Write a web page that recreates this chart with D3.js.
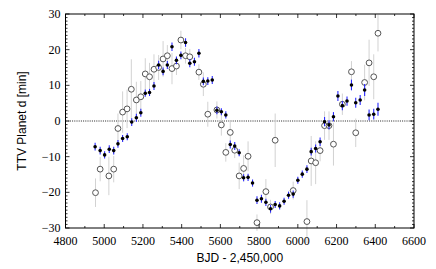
<!DOCTYPE html>
<html>
<head>
<meta charset="utf-8">
<script src="https://cdn.jsdelivr.net/npm/d3@7"></script>
<style>
  html, body { margin: 0; padding: 0; background: #fff; }
  svg { display: block; }
</style>
</head>
<body>
<div id="chart"></div>
<script>
// filled points (black, blue error bars)
var fitTimes = [4953, 4979, 5002, 5026, 5049, 5071, 5095, 5119, 5142, 5166, 5189, 5212, 5234, 5257, 5281, 5304,
    5326, 5350, 5373, 5396, 5420, 5442, 5466, 5489, 5512, 5535, 5558, 5582, 5605, 5628, 5651, 5674,
    5697, 5720, 5743, 5766, 5789, 5812, 5835, 5859, 5883, 5906, 5929, 5952, 5976, 6000, 6023, 6047,
    6069, 6092, 6115, 6138, 6161, 6184, 6207, 6230, 6254, 6277, 6299, 6322, 6345, 6368, 6392, 6414];
var fitValues = [-7.2, -8.3, -9.5, -7.9, -8.3, -6.4, -4.9, -4.4, -0.3, 0.9, 2.3, 7.8, 8.0, 9.8, 15.7, 13.9,
    15.7, 20.8, 17.0, 18.4, 22.0, 16.2, 16.6, 19.0, 11.1, 11.2, 11.5, 3.0, 2.6, 1.7, -6.6, -7.0,
    -8.9, -15.9, -15.8, -17.4, -22.2, -21.8, -22.8, -24.6, -23.4, -23.8, -22.5, -20.8, -20.5, -16.6, -14.9, -13.5,
    -8.6, -7.7, -5.8, -0.2, -1.1, 1.2, 7.0, 4.3, 5.6, 10.1, 5.1, 5.9, 8.7, 1.7, 1.9, 3.3];
var fitErrors = [1.1, 1.1, 1.0, 1.1, 1.1, 1.1, 1.0, 1.0, 1.1, 1.1, 1.1, 1.0, 1.0, 1.1, 1.2, 1.1,
    1.1, 1.2, 1.1, 1.1, 1.2, 1.1, 1.1, 1.2, 1.1, 1.1, 1.1, 1.1, 1.0, 1.0, 1.1, 1.1,
    1.0, 1.0, 1.0, 1.0, 1.1, 1.1, 1.0, 1.1, 1.0, 1.0, 1.0, 1.0, 1.0, 1.0, 1.0, 1.1,
    1.1, 1.1, 1.2, 1.3, 1.3, 1.3, 1.4, 1.3, 1.3, 1.5, 1.4, 1.4, 1.7, 1.5, 1.5, 1.8];

// open circles (grey error bars)
var obsTimes = [4955, 4979, 5024, 5049, 5071, 5095, 5118, 5140, 5166, 5189, 5212, 5234, 5257, 5281, 5304, 5326,
    5350, 5373, 5396, 5420, 5442, 5489, 5512, 5535, 5582, 5605, 5628, 5651, 5674, 5697, 5720, 5743,
    5789, 5835, 5859, 5883, 5976, 6047, 6069, 6092, 6115, 6138, 6161, 6184, 6230, 6277, 6299, 6345,
    6368, 6392, 6414];
var obsValues = [-20.1, -13.5, -15.4, -13.5, -2.1, 2.5, 3.4, 8.9, 5.9, 6.8, 13.2, 12.4, 14.5, 15.0, 17.4, 18.3,
    14.7, 15.4, 22.7, 18.3, 18.0, 13.7, 10.3, 1.9, 3.1, -1.1, -8.8, -3.2, -8.2, -15.4, -13.3, -9.9,
    -28.5, -19.8, -24.1, -5.4, -19.5, -28.2, -11.2, -11.7, -8.3, -1.3, -1.3, -6.5, 4.7, 13.8, -3.3, 10.8,
    16.3, 12.4, 24.6];
var obsErrors = [4.0, 3.4, 5.4, 3.7, 4.2, 5.8, 5.4, 8.4, 5.1, 4.4, 4.4, 3.9, 4.2, 3.5, 5.0, 3.0,
    4.4, 2.5, 2.6, 2.2, 2.2, 2.2, 3.3, 3.5, 2.4, 3.0, 2.6, 3.0, 2.2, 3.7, 3.7, 4.2,
    2.3, 3.5, 2.0, 7.5, 2.5, 6.0, 7.0, 6.0, 3.0, 4.0, 4.0, 6.0, 3.0, 3.0, 4.0, 5.0,
    6.5, 6.3, 5.1];

var xTicks = [4800, 5000, 5200, 5400, 5600, 5800, 6000, 6200, 6400, 6600];
var yTicks = [-30, -20, -10, 0, 10, 20, 30];

var width = 436;
var height = 269;
var margin = { top: 14, right: 22, bottom: 41, left: 65.5 };
var innerW = width - margin.left - margin.right;
var innerH = height - margin.top - margin.bottom;

var svg = d3.select('#chart')
    .append('svg')
    .attr('width', width)
    .attr('height', height);

var g = svg.append('g')
    .attr('transform', 'translate(' + margin.left + ',' + margin.top + ')');

var x = d3.scaleLinear().domain([4800, 6600]).range([0, innerW]);
var y = d3.scaleLinear().domain([-30, 30]).range([innerH, 0]);

var fit = fitTimes.map(function(t, i){ return { t: t, v: fitValues[i], e: fitErrors[i] }; });
var obs = obsTimes.map(function(t, i){ return { t: t, v: obsValues[i], e: obsErrors[i] }; });

// zero line
g.append('line')
    .attr('x1', 0).attr('x2', innerW)
    .attr('y1', y(0)).attr('y2', y(0))
    .attr('stroke', '#222')
    .attr('stroke-width', 1)
    .attr('stroke-dasharray', '1,1.2');

// grey error bars + open circles
g.selectAll('line.obs-err')
    .data(obs)
    .enter()
    .append('line')
    .attr('class', 'obs-err')
    .attr('x1', function(d){ return x(d.t); })
    .attr('x2', function(d){ return x(d.t); })
    .attr('y1', function(d){ return y(d.v - d.e); })
    .attr('y2', function(d){ return y(d.v + d.e); })
    .attr('stroke', '#d2d2d2')
    .attr('stroke-width', 1);

g.selectAll('circle.obs')
    .data(obs)
    .enter()
    .append('circle')
    .attr('class', 'obs')
    .attr('cx', function(d){ return x(d.t); })
    .attr('cy', function(d){ return y(d.v); })
    .attr('r', 2.9)
    .attr('fill', '#fff')
    .attr('stroke', '#555')
    .attr('stroke-width', 1);

// blue error bars + black points
g.selectAll('line.fit-err')
    .data(fit)
    .enter()
    .append('line')
    .attr('class', 'fit-err')
    .attr('x1', function(d){ return x(d.t); })
    .attr('x2', function(d){ return x(d.t); })
    .attr('y1', function(d){ return y(d.v - d.e); })
    .attr('y2', function(d){ return y(d.v + d.e); })
    .attr('stroke', '#2a2aff')
    .attr('stroke-width', 1.1);

g.selectAll('circle.fit')
    .data(fit)
    .enter()
    .append('circle')
    .attr('class', 'fit')
    .attr('cx', function(d){ return x(d.t); })
    .attr('cy', function(d){ return y(d.v); })
    .attr('r', 1.8)
    .attr('fill', '#000');

// ticks, inward on all sides
var ticks = g.append('g').attr('stroke', '#000').attr('stroke-width', 0.8);
var xMinor = d3.range(4800, 6601, 100);
var yMinor = d3.range(-30, 31, 1);

xMinor.forEach(function(t){
    var len = (t % 200 === 0) ? 4 : 2;
    ticks.append('line').attr('x1', x(t)).attr('x2', x(t)).attr('y1', innerH).attr('y2', innerH - len);
    ticks.append('line').attr('x1', x(t)).attr('x2', x(t)).attr('y1', 0).attr('y2', len);
});
yMinor.forEach(function(v){
    var len = (v % 10 === 0) ? 4 : 2;
    ticks.append('line').attr('x1', 0).attr('x2', len).attr('y1', y(v)).attr('y2', y(v));
    ticks.append('line').attr('x1', innerW).attr('x2', innerW - len).attr('y1', y(v)).attr('y2', y(v));
});

g.append('rect')
    .attr('width', innerW)
    .attr('height', innerH)
    .attr('fill', 'none')
    .attr('stroke', '#000')
    .attr('stroke-width', 1);

// tick labels
var fmt = function(v){ return v < 0 ? '\u2212' + Math.abs(v) : String(v); };

g.selectAll('text.xt')
    .data(xTicks)
    .enter()
    .append('text')
    .attr('class', 'xt')
    .attr('x', function(d){ return x(d); })
    .attr('y', innerH + 17)
    .attr('text-anchor', 'middle')
    .style('font-family', '"Liberation Serif", serif')
    .style('font-size', '12px')
    .text(fmt);

g.selectAll('text.yt')
    .data(yTicks)
    .enter()
    .append('text')
    .attr('class', 'yt')
    .attr('x', -5)
    .attr('y', function(d){ return y(d) + 4; })
    .attr('text-anchor', 'end')
    .style('font-family', '"Liberation Serif", serif')
    .style('font-size', '12px')
    .text(fmt);

// axis titles
svg.append('text')
    .attr('x', margin.left + innerW / 2)
    .attr('y', 262)
    .attr('text-anchor', 'middle')
    .style('font-family', '"Liberation Sans", Arial, sans-serif')
    .style('font-size', '12px')
    .text('BJD - 2,450,000');

svg.append('text')
    .attr('transform', 'translate(26,' + (margin.top + innerH / 2) + ') rotate(-90)')
    .attr('text-anchor', 'middle')
    .style('font-family', '"Liberation Sans", Arial, sans-serif')
    .style('font-size', '12px')
    .text('TTV Planet d [min]');
</script>
</body>
</html>
